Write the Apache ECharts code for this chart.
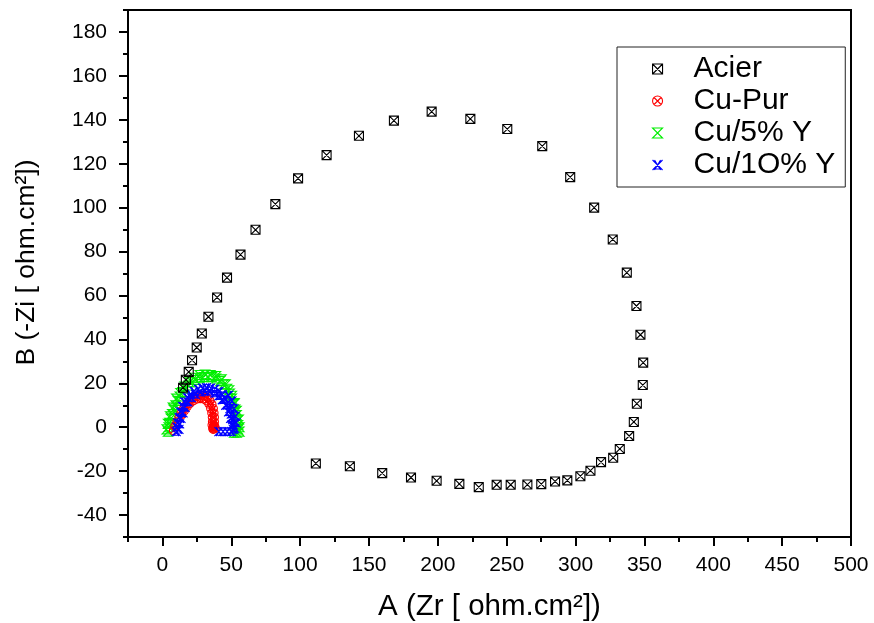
<!DOCTYPE html>
<html>
<head>
<meta charset="utf-8">
<script src="https://cdn.jsdelivr.net/npm/echarts@6/dist/echarts.min.js"></script>
<style>
  html, body { margin: 0; padding: 0; background: #fff; }
  #chart { width: 874px; height: 623px; }
</style>
</head>
<body>
<div id="chart"></div>
<script>
// Nyquist data: [Zr, -Zi] in ohm.cm²
const seriesNames = ['Acier', 'Cu-Pur', 'Cu/5% Y', 'Cu/1O% Y'];

const acier = [
  [15, 18], [17, 21.6], [19.1, 25.2], [21.5, 30.5], [24.9, 36.3], [28.6, 42.7],
  [33.4, 50.3], [39.7, 59.1], [46.9, 68.1], [56.7, 78.6], [67.6, 89.9], [82, 101.6],
  [98.5, 113.3], [119.2, 123.9], [142.7, 132.7], [168.1, 139.6], [195.5, 143.7],
  [223.6, 140.4], [250.4, 135.8], [275.8, 128], [296.1, 113.9], [313.5, 100],
  [327, 85.5], [337.2, 70.4], [344.2, 55.2], [347.1, 42.1], [349.1, 29.4],
  [348.8, 19.2], [344.5, 10.7], [342.3, 2.4], [338.9, -4], [332.1, -9.9],
  [327.3, -13.9], [318.5, -15.9], [310.8, -19.8], [303.5, -22.3], [294, -24.2],
  [285.1, -24.7], [275.1, -25.9], [265, -26.1], [252.9, -26.2], [242.7, -26.2],
  [229.7, -27.3], [215.6, -25.8], [199.1, -24.4], [180.5, -22.9], [159.6, -20.9],
  [136.1, -17.8], [111.4, -16.5]
];

const cuPur = [
  [8, -1.5], [9, 0.5], [10.5, 2.5], [12, 4.5], [13.5, 6.5], [15, 8.2], [17, 10],
  [19, 11.5], [21, 12.7], [23, 13.6], [25.5, 14.2], [28, 14.5], [30.5, 14.3],
  [32.5, 13.6], [34.5, 12.3], [36, 10.5], [37, 8.5], [37.5, 6.5], [37.8, 4.5],
  [37.8, 2.5], [37.5, 1], [37, 0], [36.5, -0.5], [37.5, -0.8], [38.5, -0.5],
  [38, 0.5], [36.8, -1],
  [14, 5.5], [16, 7.5], [18, 9.3], [20, 10.8], [22.5, 12], [25, 12.8], [27.5, 13],
  [30, 12.8], [32, 12], [33.8, 10.5], [35, 8.5], [35.8, 6.5], [36.2, 4.5],
  [36.3, 2.5], [36, 1]
];

const cu5Y = [
  [4, -2], [4.5, 0], [5, 2], [6, 4], [7, 6], [8, 8], [9.5, 10], [11, 12], [12.5, 14],
  [14.5, 16], [16.5, 17.5], [19, 19], [21.5, 20.5], [24, 21.5], [27, 22.3], [30, 22.8],
  [33, 23], [36, 22.8], [39, 22.2], [42, 21], [44.5, 19.5], [47, 17.5], [49, 15.3],
  [50.5, 13], [52, 10.5], [53, 8], [54, 5.5], [54.5, 3], [55, 1], [55, -1],
  [54, -2.5], [52, -2.5],
  [3, -1], [4, 1.5], [5.5, 5], [7.5, 9], [10, 13], [13, 15.5], [16, 18.5],
  [19.5, 20.5], [23, 22.5], [27, 23.8], [31, 24], [35, 23.8], [39, 23.3], [43, 21.8],
  [46, 19.5], [48.5, 16.8], [50.5, 14.3], [52.5, 11], [54, 7.5], [55.5, 3.5],
  [56, 0], [56, -2]
];

const cu10Y = [
  [10, -2], [10.5, 0], [11, 2], [12, 4.5], [13, 7], [14.5, 9.5], [16, 11.5], [18, 13.5],
  [20.5, 15], [23, 16.3], [26, 17.3], [29, 17.8], [32, 18], [35, 17.8], [38, 17.3],
  [41, 16.2], [43.5, 14.8], [45.5, 13], [47.5, 11], [49, 8.5], [50, 6], [51, 3.5],
  [51.5, 1], [51.5, -1], [50, -2], [47, -2], [44, -2], [41, -2],
  [12, -1], [12.5, 1.5], [13.5, 4], [15, 6.5], [16.5, 9], [18.5, 11.5], [21, 13.5],
  [24, 15], [27.5, 16], [31, 16.5], [34.5, 16.3], [38, 15.5], [41, 14.3], [43.5, 12.5],
  [46, 10], [48, 7], [49.5, 4], [50.5, 1], [52.5, -0.5], [53.5, 2], [53, 5],
  [52, 8.5], [50.5, 12], [48, 14.5]
];

// Axis tick positions
const xMajor = [0, 50, 100, 150, 200, 250, 300, 350, 400, 450, 500];
const xMinor = [-25, 25, 75, 125, 175, 225, 275, 325, 375, 425, 475];
const yMajor = [-40, -20, 0, 20, 40, 60, 80, 100, 120, 140, 160, 180];
const yMinor = [-50, -30, -10, 10, 30, 50, 70, 90, 110, 130, 150, 170, 190];

const FONT = '"Liberation Sans", Arial, sans-serif';

// Marker outlines
const SYM_SQUARE_X = 'path://M0,0L10,0L10,10L0,10ZM0,0L10,10M10,0L0,10';
const SYM_CIRCLE_X = 'path://M10,5A5,5,0,1,1,0,5A5,5,0,1,1,10,5ZM1.5,1.5L8.5,8.5M8.5,1.5L1.5,8.5';
const SYM_HOURGLASS = 'path://M0,0L10,0L0,10L10,10ZM0,0L10,10';
const SYM_DOUBLE_X = 'path://M0,0L10,10M10,0L0,10M2,0L8,10M8,0L2,10M1,9L9,9';

const styles = {
  'Acier':    { color: '#000000', symbol: SYM_SQUARE_X, size: 9 },
  'Cu-Pur':   { color: '#ff0000', symbol: SYM_CIRCLE_X, size: 8 },
  'Cu/5% Y':  { color: '#00ee00', symbol: SYM_HOURGLASS, size: 9 },
  'Cu/1O% Y': { color: '#0000ff', symbol: SYM_DOUBLE_X, size: 9 }
};

function scatter(name, data, z) {
  const s = styles[name];
  return {
    name: name,
    type: 'scatter',
    data: data,
    z: z,
    symbol: s.symbol,
    symbolSize: s.size,
    symbolKeepAspect: true,
    itemStyle: { color: 'transparent', borderColor: s.color, borderWidth: 1.1, opacity: 1 },
    emphasis: { disabled: true },
    animation: false
  };
}

const chart = echarts.init(document.getElementById('chart'), null, { renderer: 'canvas' });

const axisLineStyle = { color: '#000', width: 2 };

chart.setOption({
  backgroundColor: '#fff',
  animation: false,
  grid: {
    left: 128, right: 23, top: 10, bottom: 86,
    outerBoundsMode: 'none',
    show: true, borderColor: '#000', borderWidth: 2, backgroundColor: 'transparent'
  },
  legend: {
    orient: 'vertical',
    left: 617, top: 47,
    padding: [7, 10, 7, 35],
    itemWidth: 10, itemHeight: 10, itemGap: 2,
    borderColor: '#222', borderWidth: 1,
    textStyle: { fontFamily: FONT, fontSize: 30, color: '#000', padding: [0, 0, 0, 26] },
    data: seriesNames.map(n => ({
      name: n,
      icon: styles[n].symbol,
      itemStyle: { color: 'transparent', borderColor: styles[n].color, borderWidth: 1.1 }
    }))
  },
  xAxis: [
    {
      type: 'value', min: -25, max: 500, position: 'bottom',
      name: 'A (Zr [ ohm.cm²])', nameLocation: 'middle', nameGap: 55,
      nameTextStyle: { fontFamily: FONT, fontSize: 29.5, color: '#000' },
      axisLine: { show: true, onZero: false, lineStyle: axisLineStyle },
      axisTick: { show: true, inside: false, length: 9, customValues: xMajor, lineStyle: axisLineStyle },
      axisLabel: { customValues: xMajor, margin: 18, fontFamily: FONT, fontSize: 21, color: '#000' },
      splitLine: { show: false }
    },
    {
      type: 'value', min: -25, max: 500, position: 'bottom',
      axisLine: { show: false, onZero: false },
      axisTick: { show: true, inside: false, length: 5, customValues: xMinor, lineStyle: axisLineStyle },
      axisLabel: { show: false },
      splitLine: { show: false }
    }
  ],
  yAxis: [
    {
      type: 'value', min: -50, max: 190, position: 'left',
      name: 'B (-Zi [ ohm.cm²])', nameLocation: 'middle', nameGap: 88,
      nameTextStyle: { fontFamily: FONT, fontSize: 26.5, color: '#000', padding: [0, 0, 0, 22] },
      axisLine: { show: true, onZero: false, lineStyle: axisLineStyle },
      axisTick: { show: true, inside: false, length: 9, customValues: yMajor, lineStyle: axisLineStyle },
      axisLabel: { customValues: yMajor, margin: 21, fontFamily: FONT, fontSize: 21, color: '#000' },
      splitLine: { show: false }
    },
    {
      type: 'value', min: -50, max: 190, position: 'left',
      axisLine: { show: false, onZero: false },
      axisTick: { show: true, inside: false, length: 5, customValues: yMinor, lineStyle: axisLineStyle },
      axisLabel: { show: false },
      splitLine: { show: false }
    }
  ],
  series: [
    scatter('Cu/5% Y', cu5Y, 2),
    scatter('Cu-Pur', cuPur, 3),
    scatter('Cu/1O% Y', cu10Y, 4),
    scatter('Acier', acier, 5)
  ]
});
</script>
</body>
</html>
